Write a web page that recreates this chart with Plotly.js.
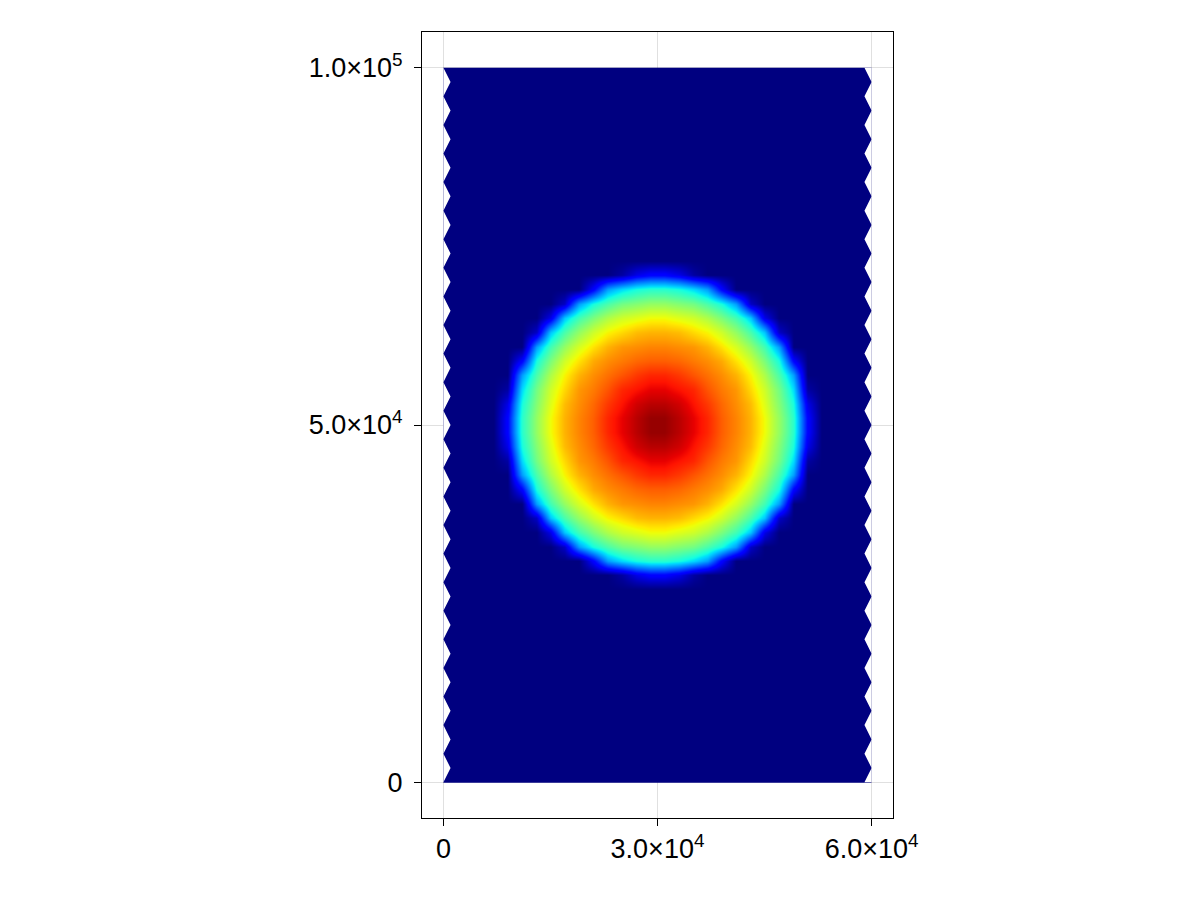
<!DOCTYPE html>
<html>
<head>
<meta charset="utf-8">
<script src="https://cdn.plot.ly/plotly-3.0.1.min.js"></script>
<style>html,body{margin:0;padding:0;background:#fff;}#plot{width:1200px;height:900px;}</style>
</head>
<body>
<div id="plot"></div>
<script>
// ---- data ----
// field grid: cells 2000 x 2000 over 0..60000 (x) by 0..100000 (y)
const nCols = 30;
const nRows = 50;
// non-zero patch (rows from y=29000 to y=71000, cols from x=9000 to x=51000)
const patchRowStart = 14;
const patchColStart = 4;
const patch = [
  [0,0,0,0,0,0,0,0,0.03,0.09,0.12,0.12,0.09,0.03,0,0,0,0,0,0,0,0],
  [0,0,0,0,0,0,0.12,0.28,0.34,0.38,0.40,0.40,0.38,0.34,0.28,0.12,0,0,0,0,0,0],
  [0,0,0,0,0.06,0.28,0.38,0.44,0.49,0.51,0.53,0.53,0.51,0.49,0.44,0.38,0.28,0.06,0,0,0,0],
  [0,0,0,0.09,0.32,0.43,0.50,0.56,0.60,0.62,0.64,0.64,0.62,0.60,0.56,0.50,0.43,0.32,0.09,0,0,0],
  [0,0,0.06,0.32,0.44,0.53,0.60,0.65,0.68,0.71,0.72,0.72,0.71,0.68,0.65,0.60,0.53,0.44,0.32,0.06,0,0],
  [0,0,0.28,0.43,0.53,0.61,0.67,0.72,0.75,0.76,0.77,0.77,0.76,0.75,0.72,0.67,0.61,0.53,0.43,0.28,0,0],
  [0,0.12,0.38,0.50,0.60,0.67,0.73,0.76,0.78,0.80,0.81,0.81,0.80,0.78,0.76,0.73,0.67,0.60,0.50,0.38,0.12,0],
  [0,0.28,0.44,0.56,0.65,0.72,0.76,0.79,0.82,0.85,0.87,0.87,0.85,0.82,0.79,0.76,0.72,0.65,0.56,0.44,0.28,0],
  [0.03,0.34,0.49,0.60,0.68,0.75,0.78,0.82,0.87,0.89,0.91,0.91,0.89,0.87,0.82,0.78,0.75,0.68,0.60,0.49,0.34,0.03],
  [0.09,0.38,0.51,0.62,0.71,0.76,0.80,0.85,0.89,0.93,0.95,0.95,0.93,0.89,0.85,0.80,0.76,0.71,0.62,0.51,0.38,0.09],
  [0.12,0.40,0.53,0.64,0.72,0.77,0.81,0.87,0.91,0.95,0.98,0.98,0.95,0.91,0.87,0.81,0.77,0.72,0.64,0.53,0.40,0.12],
  [0.12,0.40,0.53,0.64,0.72,0.77,0.81,0.87,0.91,0.95,0.98,0.98,0.95,0.91,0.87,0.81,0.77,0.72,0.64,0.53,0.40,0.12],
  [0.09,0.38,0.51,0.62,0.71,0.76,0.80,0.85,0.89,0.93,0.95,0.95,0.93,0.89,0.85,0.80,0.76,0.71,0.62,0.51,0.38,0.09],
  [0.03,0.34,0.49,0.60,0.68,0.75,0.78,0.82,0.87,0.89,0.91,0.91,0.89,0.87,0.82,0.78,0.75,0.68,0.60,0.49,0.34,0.03],
  [0,0.28,0.44,0.56,0.65,0.72,0.76,0.79,0.82,0.85,0.87,0.87,0.85,0.82,0.79,0.76,0.72,0.65,0.56,0.44,0.28,0],
  [0,0.12,0.38,0.50,0.60,0.67,0.73,0.76,0.78,0.80,0.81,0.81,0.80,0.78,0.76,0.73,0.67,0.60,0.50,0.38,0.12,0],
  [0,0,0.28,0.43,0.53,0.61,0.67,0.72,0.75,0.76,0.77,0.77,0.76,0.75,0.72,0.67,0.61,0.53,0.43,0.28,0,0],
  [0,0,0.06,0.32,0.44,0.53,0.60,0.65,0.68,0.71,0.72,0.72,0.71,0.68,0.65,0.60,0.53,0.44,0.32,0.06,0,0],
  [0,0,0,0.09,0.32,0.43,0.50,0.56,0.60,0.62,0.64,0.64,0.62,0.60,0.56,0.50,0.43,0.32,0.09,0,0,0],
  [0,0,0,0,0.06,0.28,0.38,0.44,0.49,0.51,0.53,0.53,0.51,0.49,0.44,0.38,0.28,0.06,0,0,0,0],
  [0,0,0,0,0,0,0.12,0.28,0.34,0.38,0.40,0.40,0.38,0.34,0.28,0.12,0,0,0,0,0,0],
  [0,0,0,0,0,0,0,0,0.03,0.09,0.12,0.12,0.09,0.03,0,0,0,0,0,0,0,0]
];
const xTickVals = [0, 30000, 60000];
const xTickText = ['0', '3.0×10<sup>4</sup>', '6.0×10<sup>4</sup>'];
const yTickVals = [0, 50000, 100000];
const yTickText = ['0', '5.0×10<sup>4</sup>', '1.0×10<sup>5</sup>'];

// ---- build table ----
const z = [];
for (let j = 0; j < nRows; j++) {
  const row = new Array(nCols).fill(0);
  const pj = j - patchRowStart;
  if (pj >= 0 && pj < patch.length) {
    for (let i = 0; i < patch[pj].length; i++) row[patchColStart + i] = patch[pj][i];
  }
  z.push(row);
}

const jet = [
  [0, 'rgb(0,0,128)'], [0.11, 'rgb(0,0,255)'], [0.125, 'rgb(0,0,255)'],
  [0.34, 'rgb(0,219,255)'], [0.35, 'rgb(0,230,247)'], [0.375, 'rgb(20,255,226)'],
  [0.64, 'rgb(239,255,8)'], [0.65, 'rgb(247,245,0)'], [0.66, 'rgb(255,236,0)'],
  [0.89, 'rgb(255,19,0)'], [0.91, 'rgb(232,0,0)'], [1, 'rgb(128,0,0)']
];

// mesh boundary zigzag (white notches on left/right edges)
const cell = 2000, W = nCols * cell, H = nRows * cell, notch = 1000;
let leftPath = '', rightPath = '';
for (let y = 0; y < H; y += 2 * cell) {
  leftPath += `M0,${y} L${notch},${y + cell} L0,${y + 2 * cell} Z `;
}
for (let y = 0; y <= H; y += 2 * cell) {
  const y0 = Math.max(0, y - cell), y1 = Math.min(H, y + cell);
  rightPath += `M${W},${y0} L${W - notch},${y} L${W},${y1} Z `;
}

const trace = {
  type: 'heatmap',
  z: z,
  x0: cell / 2, dx: cell,
  y0: cell / 2, dy: cell,
  zmin: 0, zmax: 1,
  colorscale: jet,
  zsmooth: 'best',
  showscale: false,
  hoverinfo: 'skip'
};

const font = {family: 'Liberation Sans, Arial, sans-serif', size: 27, color: '#000'};
const axisCommon = {
  ticks: 'outside', ticklen: 7, tickwidth: 1, tickcolor: '#000',
  showline: true, mirror: true, linecolor: '#000', linewidth: 1,
  showgrid: true, gridcolor: 'rgba(0,0,0,0.12)', gridwidth: 1,
  zeroline: false, tickfont: font, tickmode: 'array'
};

const layout = {
  width: 1200, height: 900,
  margin: {l: 422, r: 307, t: 32, b: 82, pad: 0},
  paper_bgcolor: '#fff', plot_bgcolor: '#fff',
  showlegend: false,
  xaxis: Object.assign({}, axisCommon, {range: [-3000, 63000], tickvals: xTickVals, ticktext: xTickText}),
  yaxis: Object.assign({}, axisCommon, {range: [-5000, 105000], tickvals: yTickVals, ticktext: yTickText, ticklabelstandoff: 6}),
  shapes: [
    {type: 'path', path: leftPath, xref: 'x', yref: 'y', fillcolor: '#fff', line: {width: 0}, layer: 'above'},
    {type: 'path', path: rightPath, xref: 'x', yref: 'y', fillcolor: '#fff', line: {width: 0}, layer: 'above'}
  ]
};

Plotly.newPlot('plot', [trace], layout, {staticPlot: true, displayModeBar: false});
</script>
</body>
</html>
